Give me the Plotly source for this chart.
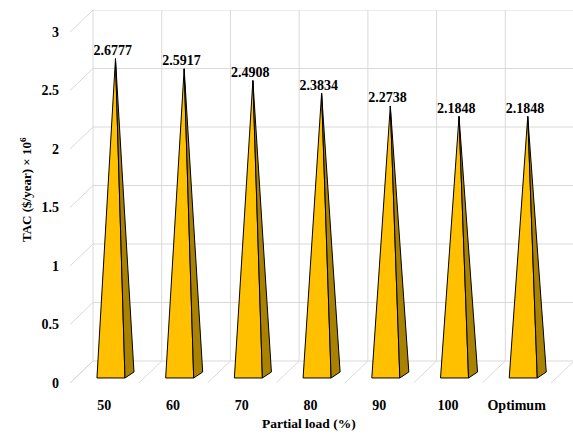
import plotly.graph_objects as go

# ---- data ----
categories = ["50", "60", "70", "80", "90", "100", "Optimum"]
tac = [2.6777, 2.5917, 2.4908, 2.3834, 2.2738, 2.1848, 2.1848]
y_ticks = [0, 0.5, 1, 1.5, 2, 2.5, 3]
y_tick_labels = ["0", "0.5", "1", "1.5", "2", "2.5", "3"]

# ---- pseudo-3D geometry (data units) ----
DX, DY = 0.335, 0.188        # depth of the 3D box
HALF_W = 0.204               # half width of pyramid base
FX, FY = 0.096, 0.043        # front face offset from category position
SX, SY = 0.131, 0.051        # visible side depth of the pyramid

FONT = "'Liberation Serif', 'Times New Roman', Times, serif"
FRONT_COLOR = "#FFC000"
SIDE_COLOR = "#A98300"
GRID = dict(color="#d9d9d9", width=1)

fig = go.Figure()
shapes = []
x_left = -0.5
x_right = len(categories) - 0.5 + DX
y_top = max(y_ticks)
for v in y_ticks:
    shapes.append(dict(type="line", xref="x", yref="y", x0=x_left, y0=v,
                       x1=x_left + DX, y1=v + DY, line=GRID, layer="below"))
    shapes.append(dict(type="line", xref="x", yref="y", x0=x_left + DX, y0=v + DY,
                       x1=x_right, y1=v + DY, line=GRID, layer="below"))
for i in range(len(categories) + 1):
    xb = i - 0.5
    shapes.append(dict(type="line", xref="x", yref="y", x0=xb, y0=0,
                       x1=xb + DX, y1=DY, line=GRID, layer="below"))
    shapes.append(dict(type="line", xref="x", yref="y", x0=xb + DX, y0=DY,
                       x1=xb + DX, y1=y_top + DY, line=GRID, layer="below"))

apex_x, apex_y = [], []
for i, v in enumerate(tac):
    blx, bly = i + FX - HALF_W, FY
    brx, bry = i + FX + HALF_W, FY
    bbx, bby = brx + SX, bry + SY
    ax_, ay_ = i + FX + SX / 2, v + DY / 2
    apex_x.append(ax_)
    apex_y.append(ay_)
    fig.add_trace(go.Scatter(x=[blx, brx, ax_, blx], y=[bly, bry, ay_, bly],
                             mode="lines", fill="toself", fillcolor=FRONT_COLOR,
                             line=dict(color="black", width=1), hoverinfo="skip"))
    fig.add_trace(go.Scatter(x=[brx, bbx, ax_, brx], y=[bry, bby, ay_, bry],
                             mode="lines", fill="toself", fillcolor=SIDE_COLOR,
                             line=dict(color="black", width=1), hoverinfo="skip"))

fig.add_trace(go.Scatter(x=[x - 0.04 for x in apex_x], y=apex_y, mode="text",
                         text=[f"<b>{v:.4f}</b>" for v in tac], textposition="top center",
                         textfont=dict(family=FONT, size=14, color="black"),
                         cliponaxis=False, hoverinfo="skip"))

fig.update_layout(
    width=573, height=434,
    margin=dict(l=70, r=0, t=10, b=51),
    plot_bgcolor="white", paper_bgcolor="white",
    showlegend=False, hovermode=False,
    shapes=shapes,
    xaxis=dict(range=[-0.5, 6.82], tickvals=list(range(len(categories))),
               ticktext=[f"<b>{c}</b>" for c in categories],
               showgrid=False, zeroline=False, showline=False,
               ticks="", ticklabelstandoff=12,
               tickfont=dict(family=FONT, size=14, color="black")),
    yaxis=dict(range=[0, 3.188], tickvals=y_ticks,
               ticktext=[f"<b>{t}</b>" for t in y_tick_labels],
               showgrid=False, zeroline=False, showline=False, ticks="",
               ticklabelstandoff=10,
               tickfont=dict(family=FONT, size=14, color="black")),
    annotations=[
        dict(text="<b>TAC ($/year) × 10<sup>6</sup></b>", xref="paper", yref="paper",
             x=(26 - 70) / 503, y=(383 - 190) / 373, textangle=-90, showarrow=False,
             xanchor="center", yanchor="middle",
             font=dict(family=FONT, size=13, color="black")),
        dict(text="<b>Partial load (%)</b>", xref="paper", yref="paper",
             x=(309 - 70) / 503, y=(383 - 423) / 373, showarrow=False,
             xanchor="center", yanchor="middle",
             font=dict(family=FONT, size=13.5, color="black")),
    ],
)

fig.write_html("out.html")
